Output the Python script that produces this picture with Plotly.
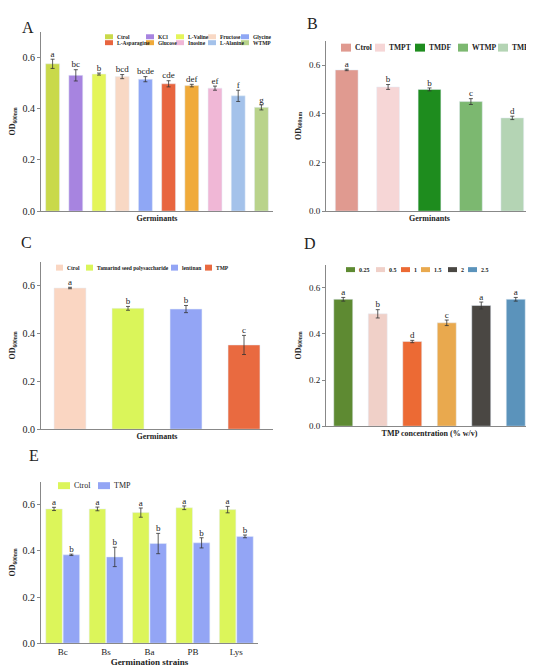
import plotly.graph_objects as go

W, H = 534, 666
FONT = "Liberation Serif"

a_names = ["Ctrol", "KCl", "L-Valine", "Fructose", "Glycine", "L-Asparagine", "Glucose", "Inosine", "L-Alanine", "WTMP"]
a_vals = [0.575, 0.530, 0.535, 0.525, 0.515, 0.497, 0.490, 0.480, 0.450, 0.405]
a_err = [0.018, 0.022, 0.004, 0.008, 0.010, 0.012, 0.005, 0.008, 0.022, 0.010]
a_let = ["a", "bc", "b", "bcd", "bcde", "cde", "def", "ef", "f", "g"]
a_col = ["#c9d94a", "#a784e0", "#e4f55a", "#f8d8c4", "#8fa7f5", "#e8653f", "#f0aa3a", "#f0b7d6", "#a4c2ea", "#b9d38b"]

b_names = ["Ctrol", "TMPT", "TMDF", "WTMP", "TMP"]
b_vals = [0.580, 0.510, 0.500, 0.450, 0.383]
b_err = [0.003, 0.010, 0.006, 0.012, 0.007]
b_let = ["a", "b", "b", "c", "d"]
b_col = ["#e09a90", "#f6d6d6", "#1e8c1e", "#7cb870", "#b4d4b4"]

c_names = ["Ctrol", "Tamarind seed polysaccharide", "lentinan", "TMP"]
c_vals = [0.590, 0.505, 0.502, 0.352]
c_err = [0.003, 0.008, 0.015, 0.040]
c_let = ["a", "b", "b", "c"]
c_col = ["#fad6c2", "#daf55a", "#93a5f5", "#e96a40"]

d_names = ["0.25", "0.5", "1", "1.5", "2", "2.5"]
d_vals = [0.550, 0.487, 0.367, 0.448, 0.523, 0.550]
d_err = [0.008, 0.018, 0.005, 0.012, 0.015, 0.008]
d_let = ["a", "b", "d", "c", "a", "a"]
d_col = ["#5e8a32", "#f0d0c8", "#ec6a34", "#e9a94e", "#4a4743", "#5b93bb"]

e_strains = ["Bc", "Bs", "Ba", "PB", "Lys"]
e_series = ["Ctrol", "TMP"]
e_ctrl = [0.582, 0.582, 0.566, 0.587, 0.579]
e_ctrl_err = [0.007, 0.008, 0.020, 0.008, 0.014]
e_tmp = [0.383, 0.374, 0.432, 0.435, 0.463]
e_tmp_err = [0.003, 0.042, 0.044, 0.022, 0.006]
e_let_ctrl = ["a"] * 5
e_let_tmp = ["b"] * 5
e_col = ["#dcf55a", "#93a5f5"]

def px(x): return x / W
def py(y): return 1 - y / H

fig = go.Figure()
panels = {
    "": dict(x=(33, 265), y=(24, 205)),
    "2": dict(x=(318, 525), y=(33, 205)),
    "3": dict(x=(33, 265), y=(256, 425)),
    "4": dict(x=(318, 525), y=(259, 422)),
    "5": dict(x=(33, 250), y=(478, 641)),
}
xtitles = {"": "Germinants", "2": "Germinants", "3": "Germinants", "4": "TMP concentration (% w/v)", "5": "Germination strains"}

def single(k, names, vals, errs, lets, cols, width):
    xa, ya = "x" + k, "y" + k
    for n, v, e, c in zip(names, vals, errs, cols):
        fig.add_trace(go.Bar(x=[n], y=[v], marker_color=c, name=n, width=width, showlegend=False,
                             error_y=dict(type="data", array=[e], color="#333", thickness=0.8, width=2),
                             xaxis=xa, yaxis=ya))
    fig.add_trace(go.Scatter(x=names, y=[v + e for v, e in zip(vals, errs)], text=lets, mode="text",
                             textposition="top center", textfont=dict(family=FONT, size=9, color="#222"),
                             showlegend=False, xaxis=xa, yaxis=ya, cliponaxis=False))

single("", a_names, a_vals, a_err, a_let, a_col, 0.6)
single("2", b_names, b_vals, b_err, b_let, b_col, 0.55)
single("3", c_names, c_vals, c_err, c_let, c_col, 0.55)
single("4", d_names, d_vals, d_err, d_let, d_col, 0.55)

for nm, vals, errs, lets, col, off in [(e_series[0], e_ctrl, e_ctrl_err, e_let_ctrl, e_col[0], -0.2),
                                       (e_series[1], e_tmp, e_tmp_err, e_let_tmp, e_col[1], 0.2)]:
    fig.add_trace(go.Bar(x=e_strains, y=vals, name=nm, marker_color=col, width=0.38, offset=off - 0.19,
                         showlegend=False,
                         error_y=dict(type="data", array=errs, color="#333", thickness=0.8, width=2),
                         xaxis="x5", yaxis="y5"))
    fig.add_trace(go.Scatter(x=[i + off for i in range(5)], y=[v + e for v, e in zip(vals, errs)], text=lets,
                             mode="text", textposition="top center", textfont=dict(family=FONT, size=9, color="#222"),
                             showlegend=False, xaxis="x6", yaxis="y5", cliponaxis=False))

layout = dict(width=W, height=H, margin=dict(l=0, r=0, t=0, b=0), paper_bgcolor="white",
              plot_bgcolor="white", font=dict(family=FONT, color="#222"), barmode="overlay", showlegend=False)
for k, p in panels.items():
    layout["xaxis" + k] = dict(domain=[px(p["x"][0]), px(p["x"][1])], anchor="y" + k,
                               showline=True, linecolor="#888", linewidth=1,
                               showticklabels=(k == "5"), ticks="", tickfont=dict(size=10),
                               title=dict(text=xtitles[k], font=dict(size=8 if k != "5" else 9, weight="bold"),
                                          standoff=4 if k != "5" else 1))
    layout["yaxis" + k] = dict(domain=[py(p["y"][1]), py(p["y"][0])], anchor="x" + k, range=[0, 0.7],
                               tickvals=[0, 0.2, 0.4, 0.6], ticktext=["0.0", "0.2", "0.4", "0.6"],
                               showline=True, linecolor="#888", linewidth=1, ticks="outside", ticklen=3,
                               tickcolor="#888", showgrid=False, zeroline=False,
                               tickfont=dict(size=10 if k in ("", "3", "5") else 9),
                               title=dict(text="OD<sub>600nm</sub>", font=dict(size=8, weight="bold"), standoff=6))
layout["xaxis5"]["range"] = [-0.5, 4.5]
layout["xaxis5"]["type"] = "category"
layout["xaxis5"]["tickfont"] = dict(size=9)
layout["xaxis6"] = dict(domain=layout["xaxis5"]["domain"], anchor="y5", range=[-0.5, 4.5], visible=False, overlaying="x5")
fig.update_layout(**layout)

shapes = []
def legend(names, cols, xs, ys, sw, sh, fs, bold=True):
    for n, c, x, y in zip(names, cols, xs, ys):
        shapes.append(dict(type="rect", xref="paper", yref="paper", x0=px(x), x1=px(x + sw),
                           y0=py(y + sh / 2), y1=py(y - sh / 2), fillcolor=c, line=dict(width=0)))
        fig.add_annotation(text=n, x=px(x + sw + 2), y=py(y), xref="paper", yref="paper", showarrow=False,
                           xanchor="left", yanchor="middle",
                           font=dict(family=FONT, size=fs, color="#222", weight="bold" if bold else "normal"))

legend(a_names, a_col, [97, 138, 168, 200, 233] * 2, [29] * 5 + [35] * 5, 8, 5, 5.5)
legend(b_names, b_col, [333, 367, 407, 450, 490], [40] * 5, 10, 8, 7.5)
legend(c_names, c_col, [48, 78, 163, 197], [262] * 4, 7, 6, 5.5)
legend(d_names, d_col, [338, 368, 393, 413, 440, 460], [264] * 6, 9, 5, 6)
legend(e_series, e_col, [50, 90], [482] * 2, 12, 7, 8, bold=False)
fig.update_layout(shapes=shapes)

for t, x, y in [("A", 20, 20), ("B", 304, 16), ("C", 18, 237), ("D", 302, 238), ("E", 26, 452)]:
    fig.add_annotation(text=t, x=px(x), y=py(y), xref="paper", yref="paper", showarrow=False,
                       font=dict(family=FONT, size=16), xanchor="center", yanchor="middle")

fig.write_html("out.html")
